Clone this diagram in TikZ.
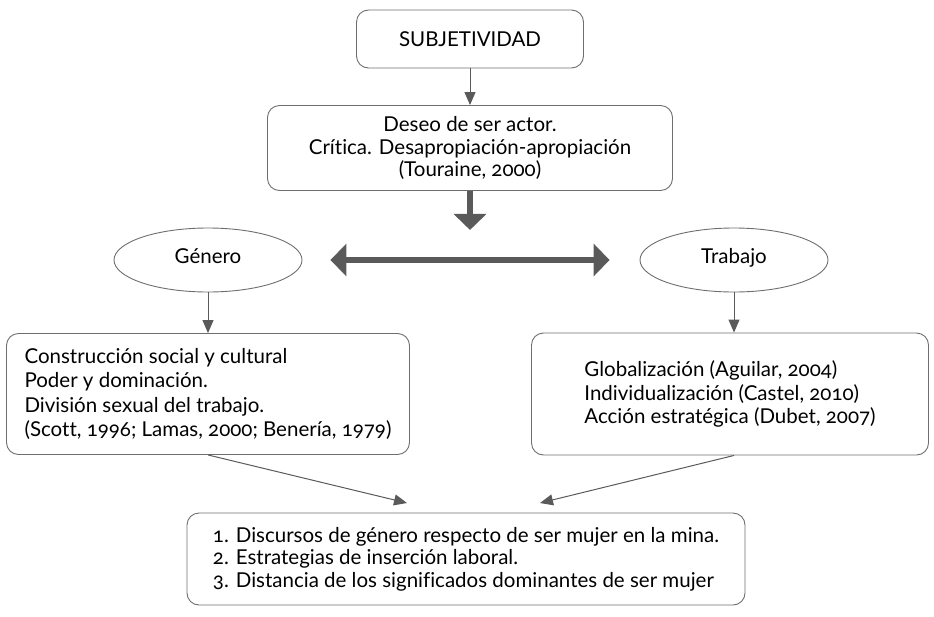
\documentclass[tikz,border=0pt]{standalone}
\usepackage{fontspec}
\setmainfont[Numbers=OldStyle,Ligatures=NoCommon]{Lato}
\usetikzlibrary{positioning,shapes.geometric,arrows.meta}
\definecolor{linegray}{HTML}{5A5A5A}
\definecolor{boxgray}{HTML}{6E6E6E}

\begin{document}
\begin{tikzpicture}[x=1pt,y=-1pt,
  every node/.style={font=\fontsize{20.5}{22.5}\selectfont},
  box/.style={draw=boxgray, line width=0.9pt, rounded corners=12pt, align=left},
  oval/.style={draw=boxgray, line width=0.9pt, ellipse, minimum width=188pt, minimum height=64pt,
    text height=1.6ex, text depth=0.4ex},
  thin/.style={draw=linegray, line width=1pt, -{Triangle[width=11pt,length=13pt]}},
  thick/.style={draw=linegray, line width=6pt, -{Triangle[width=32pt,length=16pt]}}]
  \useasboundingbox (0,0) rectangle (934,616);
  \node[box, align=center, minimum width=227pt, minimum height=58pt] (subjetividad) at (470,39) {SUBJETIVIDAD};
  \node[box, align=center, minimum width=405pt, minimum height=85pt] (actor) at (470,148)
    {Deseo de ser actor.\\ Crítica. Desapropiación-apropiación\\ (Touraine, 2000)};
  \node[oval] (genero) at (208,260) {Género};
  \node[oval] (trabajo) at (734,260) {Trabajo};
  \node[box, minimum width=403pt, minimum height=121pt] (construccion) at (208,394)
    {Construcción social y cultural\\[2pt] Poder y dominación.\\[2pt] División sexual del trabajo.\\[2pt] (Scott, 1996; Lamas, 2000; Benería, 1979)};
  \node[box, minimum width=397pt, minimum height=122pt] (globalizacion) at (730,394)
    {Globalización (Aguilar, 2004)\\[1pt] Individualización (Castel, 2010)\\[1pt] Acción estratégica (Dubet, 2007)};
  \node[box, minimum width=558pt, minimum height=92pt] (discursos) at (466,559)
    {1. Discursos de género respecto de ser mujer en la mina.\\ 2. Estrategias de inserción laboral.\\ 3. Distancia de los significados dominantes de ser mujer};
  \coordinate (izq) at (407,503);
  \coordinate (der) at (540,503);
  \draw[thin] (subjetividad) -- (actor);
  \draw[thick] (actor.south) -- ++(0,39);
  \draw[thick, {Triangle[width=32pt,length=16pt]}-{Triangle[width=32pt,length=16pt]},
    shorten <=28pt, shorten >=30pt] (genero) -- (trabajo);
  \draw[thin] (genero) -- (construccion);
  \draw[thin] (trabajo) -- (trabajo |- globalizacion.north);
  \draw[thin] (construccion.south -| genero) -- (izq);
  \draw[thin] (globalizacion.south -| trabajo) -- (der);
\end{tikzpicture}
\end{document}
